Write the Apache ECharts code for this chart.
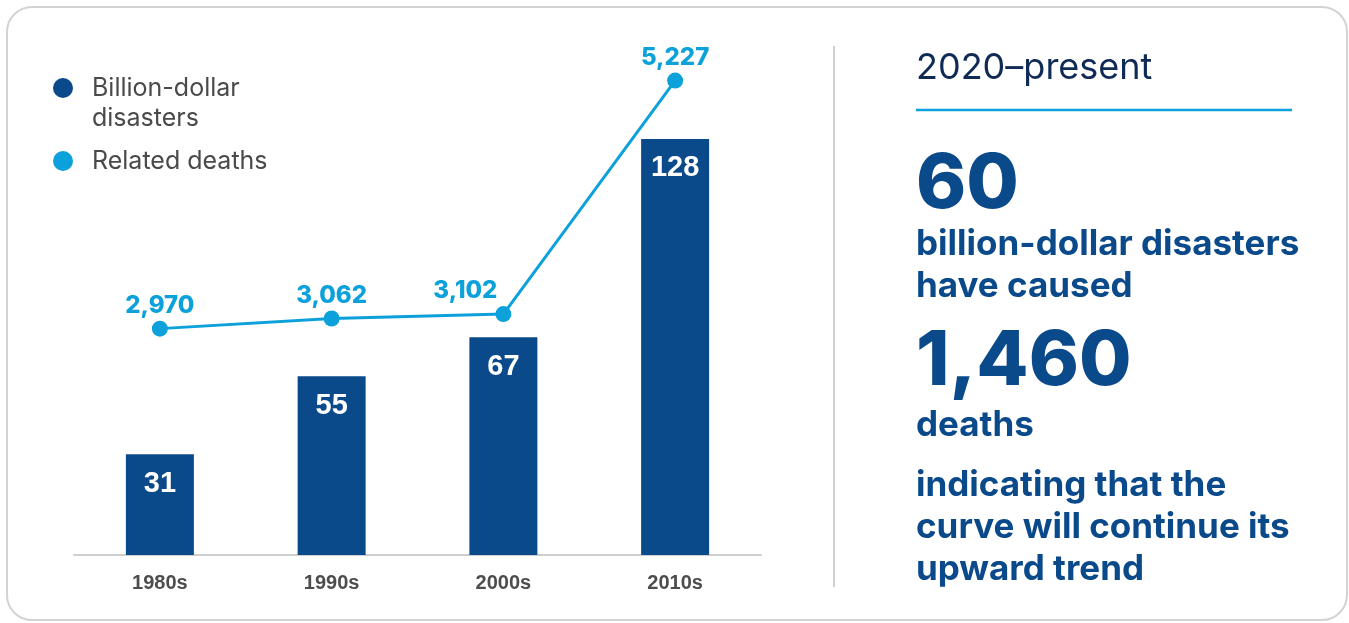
<!DOCTYPE html>
<html>
<head>
<meta charset="utf-8">
<script src="https://cdn.jsdelivr.net/npm/echarts@6/dist/echarts.min.js"></script>
<style>
html, body { margin: 0; padding: 0; background: #fff; }
#wrap { position: relative; width: 1349px; height: 623px; overflow: hidden; }
#card {
  position: absolute; left: 6px; top: 6px; width: 1342px; height: 615px;
  box-sizing: border-box; border: 2px solid #d3d3d3; border-radius: 26px;
}
#chart { position: absolute; left: 0; top: 0; width: 1349px; height: 623px; }
</style>
</head>
<body>
<div id="wrap">
  <div id="card"></div>
  <div id="chart"></div>
</div>
<script>
// data
var decades = ['1980s', '1990s', '2000s', '2010s'];
var disasters = [31, 55, 67, 128];
var deaths = [2970, 3062, 3102, 5227];
var legendLines = [['Billion-dollar', 'disasters'], ['Related deaths']];
var sideTitle = '2020\u2013present';
var sideDisasters = '60';
var sideDisastersText = ['billion-dollar disasters', 'have caused'];
var sideDeaths = '1,460';
var sideDeathsText = ['deaths'];
var sideNote = ['indicating that the', 'curve will continue its', 'upward trend'];

var navy = '#0b4a8a';
var sky = '#0ca1da';
var font = 'Inter';

var graphics = [];
// legend
graphics.push({ type: 'circle', shape: { cx: 63, cy: 88, r: 10 }, style: { fill: navy } });
graphics.push({ type: 'circle', shape: { cx: 63, cy: 161, r: 10 }, style: { fill: sky } });
function leg(y, s) {
  graphics.push({ type: 'text', x: 92, y: y, style: { text: s, font: '400 25px ' + font, fill: '#4a4a4a', verticalAlign: 'middle' } });
}
leg(88, legendLines[0][0]);
leg(118, legendLines[0][1]);
leg(161, legendLines[1][0]);

// separator
graphics.push({ type: 'line', shape: { x1: 834, y1: 46, x2: 834, y2: 587 }, style: { stroke: '#d0d0d0', lineWidth: 2 } });

// right panel
function side(y, s, size, weight, color) {
  graphics.push({ type: 'text', x: 916, y: y, style: { text: s, font: weight + ' ' + size + 'px ' + font, fill: color, verticalAlign: 'middle' } });
}
side(68, sideTitle, 36, 400, '#0f2b55');
graphics.push({ type: 'line', shape: { x1: 916, y1: 110, x2: 1292, y2: 110 }, style: { stroke: sky, lineWidth: 2.5 } });
side(185, sideDisasters, 76, 800, navy);
side(244, sideDisastersText[0], 35, 700, navy);
side(286, sideDisastersText[1], 35, 700, navy);
side(362, sideDeaths, 76, 800, navy);
side(425, sideDeathsText[0], 35, 700, navy);
sideNote.forEach(function (s, i) { side(485 + i * 42, s, 35, 700, navy); });

var chart = echarts.init(document.getElementById('chart'));
chart.setOption({
  animation: false,
  grid: { left: 74, right: 588, top: 55, bottom: 68 },
  xAxis: {
    type: 'category',
    data: decades,
    axisLine: { lineStyle: { color: '#cfcfcf', width: 2 } },
    axisTick: { show: false },
    axisLabel: { margin: 18, color: '#4d4d4d', fontFamily: 'Liberation Sans', fontWeight: 'bold', fontSize: 20 }
  },
  yAxis: [
    { type: 'value', min: 0, max: 153.8, show: false, splitLine: { show: false } },
    { type: 'value', min: 910, max: 5460, show: false, splitLine: { show: false } }
  ],
  series: [
    {
      type: 'bar',
      data: disasters,
      barWidth: 68,
      itemStyle: { color: navy },
      label: {
        show: true, position: 'insideTop', distance: 15,
        color: '#fff', fontFamily: 'Liberation Sans', fontWeight: 'bold', fontSize: 29
      }
    },
    {
      type: 'line',
      yAxisIndex: 1,
      data: deaths.map(function (v, i) {
        // the 2000s label sits left of its point, clear of the rising line
        return i === 2 ? { value: v, label: { offset: [-38, 0] } } : v;
      }),
      symbol: 'circle',
      symbolSize: 16,
      lineStyle: { color: sky, width: 3 },
      itemStyle: { color: sky },
      label: {
        show: true, position: 'top', distance: 3,
        color: sky, fontFamily: font, fontWeight: 800, fontSize: 24,
        formatter: function (p) { return p.value.toLocaleString('en-US'); }
      }
    }
  ],
  graphic: graphics
});
</script>
</body>
</html>
